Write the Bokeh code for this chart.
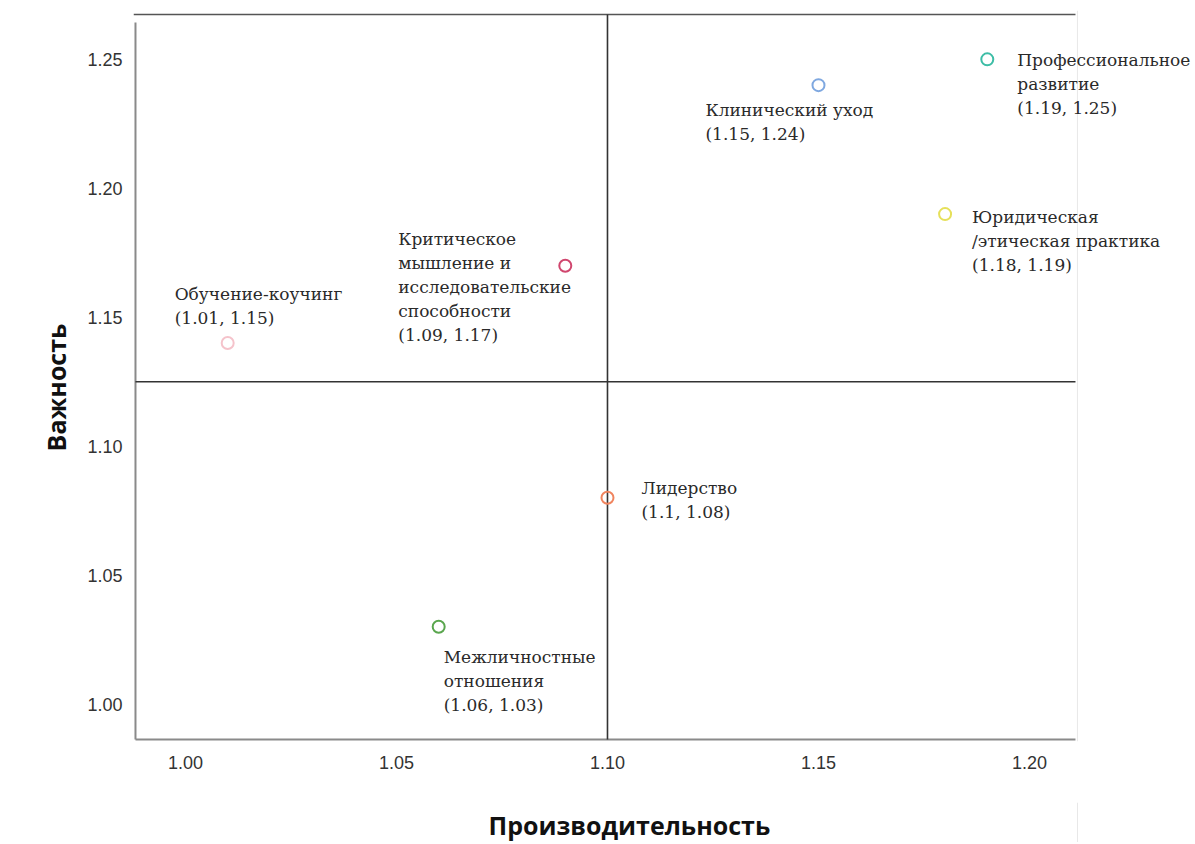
import math
from bokeh.plotting import figure
from bokeh.layouts import row, column
from bokeh.models import ColumnDataSource, LabelSet, Label, FixedTicker, Range1d
from bokeh.core.properties import value
from bokeh.embed import file_html
from bokeh.resources import INLINE

# ---- data ----
names = ["Профессиональное развитие", "Клинический уход", "Юридическая/этическая практика",
         "Критическое мышление и исследовательские способности", "Обучение-коучинг",
         "Лидерство", "Межличностные отношения"]
perf = [1.19, 1.15, 1.18, 1.09, 1.01, 1.10, 1.06]
imp = [1.25, 1.24, 1.19, 1.17, 1.14, 1.08, 1.03]
colors = ["#3dbda6", "#7fa8e0", "#e6e05a", "#d0466e", "#f5c3cb", "#f0845e", "#5aa64e"]
label_lines = [
    ["Профессиональное", "развитие", "(1.19, 1.25)"],
    ["Клинический уход", "(1.15, 1.24)"],
    ["Юридическая", "/этическая практика", "(1.18, 1.19)"],
    ["Критическое", "мышление и", "исследовательские", "способности", "(1.09, 1.17)"],
    ["Обучение-коучинг", "(1.01, 1.15)"],
    ["Лидерство", "(1.1, 1.08)"],
    ["Межличностные", "отношения", "(1.06, 1.03)"],
]
x_ticks = [1.00, 1.05, 1.10, 1.15, 1.20]
y_ticks = [1.00, 1.05, 1.10, 1.15, 1.20, 1.25]
x_title = "Производительность"
y_title = "Важность"
x_ref = 1.10
y_ref = 1.125

# ---- layout / decoration (not data) ----
X0, X1 = 0.98768, 1.23863
Y0, Y1 = 0.98549, 1.26895
AX_X, AX_XEND = 0.98815, 1.21090
AX_Y, AX_YTOP, TOP_Y = 0.98627, 1.26431, 1.26740
EDGE_X = 1.21137

lab_dx = [30, -113, 27, -167, -53, 34, 5]
lab_dy = [1, 25, 3, -27, -49, -10, 30]
line_h = 24

LEFT_W, MAIN_W, MAIN_H, BOT_H = 80, 1112, 802, 40
FRAME_L, FRAME_R = 133, 1192   # screen extent of the main frame (bottom panel frame aligns to it)

# main plot
p = figure(width=MAIN_W, height=MAIN_H, output_backend="svg", toolbar_location=None,
           x_range=Range1d(X0, X1), y_range=Range1d(Y0, Y1),
           min_border_left=53, min_border_right=0, min_border_top=10, min_border_bottom=61)
p.outline_line_color = None
p.xgrid.visible = False
p.ygrid.visible = False
p.background_fill_color = "white"
p.border_fill_color = "white"

for ax in (p.xaxis[0], p.yaxis[0]):
    ax.axis_line_color = None
    ax.major_tick_line_color = None
    ax.minor_tick_line_color = None
    ax.major_label_text_font = "Liberation Sans"
    ax.major_label_text_font_size = "18px"
    ax.major_label_text_color = "#333333"

p.xaxis.ticker = FixedTicker(ticks=x_ticks)
p.yaxis.ticker = FixedTicker(ticks=y_ticks)
p.xaxis.major_label_overrides = {t: f"{t:.2f}" for t in x_ticks}
p.yaxis.major_label_overrides = {t: f"{t:.2f}" for t in y_ticks}
p.xaxis.major_label_standoff = 8
p.yaxis.major_label_standoff = 5

# frame decoration lines
p.segment(x0=[AX_X], y0=[AX_Y], x1=[AX_XEND], y1=[AX_Y], line_color="#8a8a8a", line_width=2)
p.segment(x0=[AX_X], y0=[AX_Y], x1=[AX_X], y1=[AX_YTOP], line_color="#8a8a8a", line_width=2)
p.segment(x0=[X0], y0=[TOP_Y], x1=[AX_XEND], y1=[TOP_Y], line_color="#555555", line_width=1.5)
p.segment(x0=[EDGE_X], y0=[Y0], x1=[EDGE_X], y1=[Y1], line_color="#e8e8e8", line_width=1)

# quadrant lines
p.segment(x0=[x_ref], y0=[AX_Y], x1=[x_ref], y1=[TOP_Y], line_color="#333333", line_width=1.6)
p.segment(x0=[AX_X], y0=[y_ref], x1=[AX_XEND], y1=[y_ref], line_color="#333333", line_width=1.6)

src = ColumnDataSource(dict(x=perf, y=imp, c=colors))
p.scatter("x", "y", source=src, size=12, marker="circle", fill_color=None, line_color="c", line_width=2)

lx, ly, lt, ox, oy = [], [], [], [], []
for i, lines in enumerate(label_lines):
    for j, t in enumerate(lines):
        lx.append(perf[i]); ly.append(imp[i]); lt.append(t)
        ox.append(lab_dx[i]); oy.append(-(lab_dy[i] + j * line_h))
lsrc = ColumnDataSource(dict(x=lx, y=ly, t=lt, ox=ox, oy=oy))
p.add_layout(LabelSet(x="x", y="y", text="t", x_offset="ox", y_offset="oy", source=lsrc,
                      text_font=value("DejaVu Serif"), text_font_size="17px", text_color="#2a2a2a",
                      text_baseline="middle", text_align="left"))


def blank(w, h, xr):
    f = figure(width=w, height=h, output_backend="svg", toolbar_location=None,
               x_range=Range1d(*xr), y_range=Range1d(0, h),
               x_axis_type=None, y_axis_type=None,
               min_border_left=0, min_border_right=0, min_border_top=0, min_border_bottom=0)
    f.outline_line_color = None
    f.background_fill_color = "white"
    f.border_fill_color = "white"
    return f


# y-axis title panel (left)
pl = blank(LEFT_W, MAIN_H + BOT_H, (0, LEFT_W))
pl.add_layout(Label(x=55, y=MAIN_H + BOT_H - 387, text=y_title, angle=math.pi / 2,
                    text_align="center", text_baseline="middle",
                    text_font="Open Sans", text_font_style="bold", text_font_size="25px",
                    text_color="#111111"))

# x-axis title panel (bottom); its frame lines up with the main frame, so x is in page pixels
pb = blank(MAIN_W, BOT_H, (FRAME_L, FRAME_R))
pb.add_layout(Label(x=488, y=BOT_H - 22, text=x_title,
                    text_align="left", text_baseline="middle",
                    text_font="Open Sans", text_font_style="bold", text_font_size="25px",
                    text_color="#111111"))
pb.segment(x0=[1077], y0=[0], x1=[1077], y1=[BOT_H], line_color="#e8e8e8", line_width=1)

layout = row(pl, column(p, pb, spacing=0), spacing=0)
open("out.html", "w").write(file_html(layout, INLINE))
